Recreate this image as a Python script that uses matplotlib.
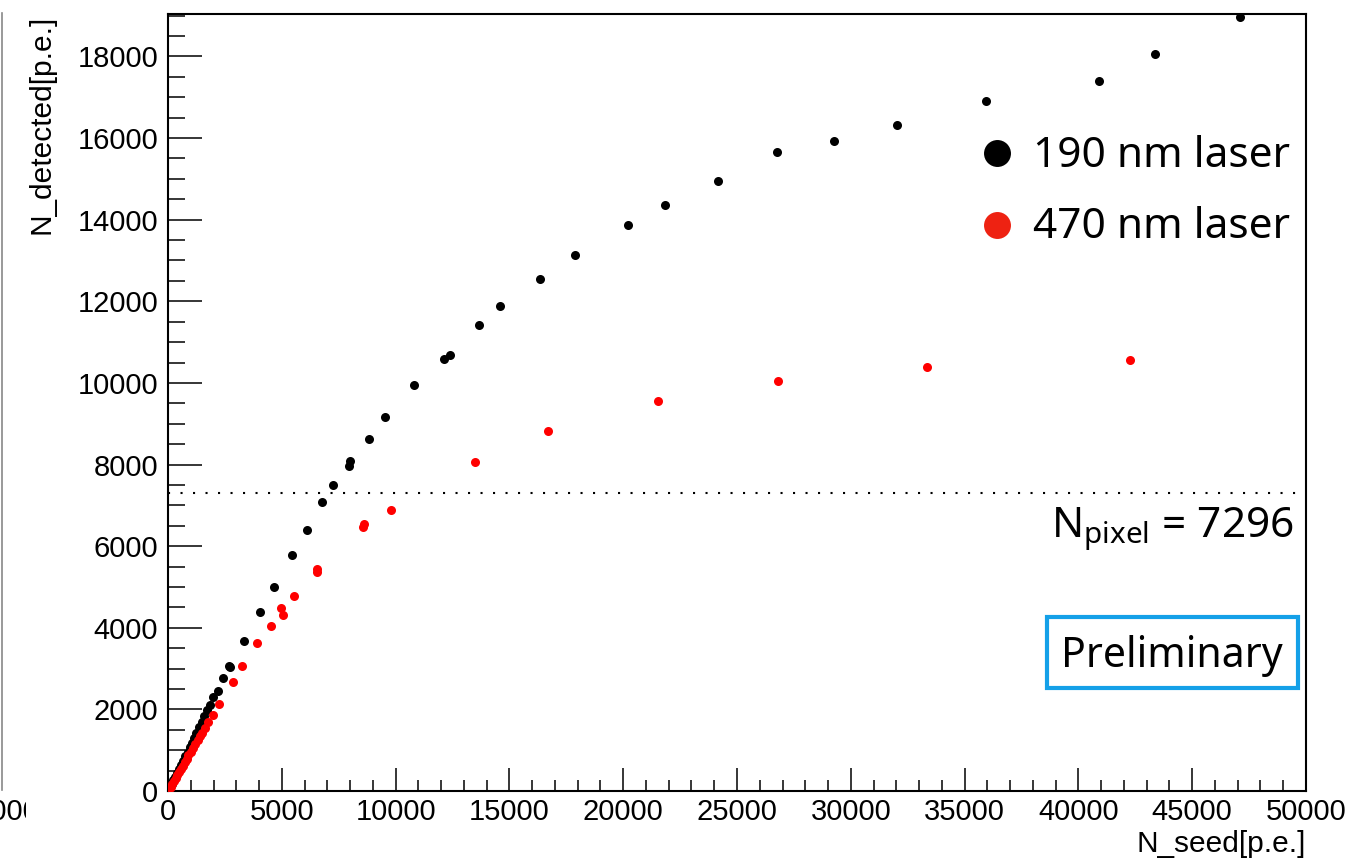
import matplotlib
matplotlib.use("Agg")
import matplotlib.pyplot as plt
from matplotlib.lines import Line2D
from matplotlib.patches import Rectangle
from matplotlib.ticker import MultipleLocator
from matplotlib.transforms import Bbox, TransformedBbox, IdentityTransform

# ---------------- data ----------------
seed_190 = [47100, 43370, 40900, 35940, 32030, 29260, 26760, 24170, 21840, 20210,
            17880, 16340, 14590, 13660, 12390, 12130, 10810, 9530, 8830, 8000,
            7950, 7250, 6770, 6110, 5450, 4660, 4040, 3340, 2720, 2680,
            2420, 2200, 1980, 1850, 1720, 1600, 1480, 1380, 1250, 1150,
            1050, 950, 860, 760, 660, 570, 480, 400, 320, 240, 170, 100, 50]
det_190 = [18960, 18050, 17410, 16920, 16310, 15920, 15650, 14960, 14350, 13860,
           13130, 12540, 11880, 11410, 10680, 10580, 9940, 9160, 8620, 8080,
           7960, 7490, 7080, 6390, 5780, 5000, 4380, 3670, 3040, 3060,
           2770, 2450, 2300, 2110, 1980, 1840, 1700, 1570, 1420, 1300,
           1180, 1070, 960, 850, 740, 630, 530, 440, 350, 260, 180, 110, 50]

seed_470 = [42270, 33350, 26800, 21530, 16700, 13490, 9800, 8610, 8570, 6550,
            6550, 5540, 4960, 5050, 4530, 3910, 3250, 2860, 2240, 1980,
            1760, 1620, 1500, 1400, 1300, 1200, 1100, 1000, 900, 820,
            730, 640, 560, 480, 400, 330, 260, 190, 120, 60, 20]
det_470 = [10560, 10380, 10040, 9550, 8820, 8060, 6880, 6540, 6470, 5440,
           5360, 4780, 4480, 4310, 4040, 3620, 3060, 2670, 2130, 1860,
           1690, 1550, 1430, 1340, 1240, 1150, 1050, 960, 870, 790,
           700, 620, 540, 460, 380, 310, 250, 180, 110, 50, 10]

n_pixel = 7296
legend_labels = ["190 nm laser", "470 nm laser"]
x_title = "N_seed[p.e.]"
y_title = "N_detected[p.e.]"

# ---------------- style ----------------
W, H = 1346, 859
plt.rcParams['font.family'] = ['Liberation Sans', 'DejaVu Sans']
plt.rcParams['mathtext.fontset'] = 'custom'
plt.rcParams['mathtext.rm'] = 'Noto Sans'
plt.rcParams['mathtext.it'] = 'Noto Sans'
plt.rcParams['mathtext.bf'] = 'Noto Sans'
ANN = ['Noto Sans', 'DejaVu Sans']
ANN_SIZE = 30.5

fig = plt.figure(figsize=(W / 100, H / 100), dpi=100)

def fx(px):
    return px / W

def fy(py):
    return 1 - py / H

L, R, T, B = 168, 1306, 14, 791
ax = fig.add_axes([fx(L), fy(B), (R - L) / W, (B - T) / H])

ax.plot(seed_190, det_190, 'o', color='black', ms=6.5, mew=0, ls='none', zorder=3)
ax.plot(seed_470, det_470, 'o', color='#ff0000', ms=6.5, mew=0, ls='none', zorder=4)

ax.axhline(n_pixel, xmin=0.0, xmax=0.995, color='black', lw=1.5, ls=(0, (1, 5)), zorder=2)

ax.set_xlim(0, 50000)
ax.set_ylim(0, 19040)
ax.xaxis.set_major_locator(MultipleLocator(5000))
ax.xaxis.set_minor_locator(MultipleLocator(1000))
ax.yaxis.set_major_locator(MultipleLocator(2000))
ax.yaxis.set_minor_locator(MultipleLocator(500))

for s in ax.spines.values():
    s.set_linewidth(1.5)

ax.tick_params(axis='both', which='both', direction='in', top=False, right=False,
               width=1.1, color='black')
ax.tick_params(axis='y', which='major', length=24.5, labelsize=21, pad=7)
ax.tick_params(axis='y', which='minor', length=12.2)
ax.tick_params(axis='x', which='major', length=16.5, labelsize=21, pad=5)
ax.tick_params(axis='x', which='minor', length=8)

# axis titles
fig.text(fx(1306), fy(852), x_title, ha='right', va='baseline', fontsize=21.5)
yt = fig.text(fx(50), fy(15), y_title, ha='right', va='baseline', rotation=90,
              rotation_mode='anchor', fontsize=21.5)
yt.set_clip_box(TransformedBbox(Bbox([[27, 0], [400, H]]), IdentityTransform()))
yt.set_clip_on(True)

# legend (manual)
leg_colors = ['black', '#ee2212']
leg_y = [153, 225]
leg_base = [167, 238]
for lab, c, yy, yb in zip(legend_labels, leg_colors, leg_y, leg_base):
    fig.add_artist(Line2D([fx(997)], [fy(yy)], marker='o', ms=19.4, mew=0,
                          color=c, transform=fig.transFigure))
    fig.text(fx(1033), fy(yb), lab, ha='left', va='baseline', fontsize=ANN_SIZE,
             family=ANN)

# N_pixel annotation
fig.text(fx(1294), fy(537), r'N$_{\mathrm{pixel}}$ = %d' % n_pixel, ha='right',
         va='baseline', fontsize=ANN_SIZE, family=ANN)

# Preliminary box
fig.add_artist(Rectangle((fx(1047), fy(688)), fx(1298) - fx(1047), fy(617) - fy(688),
                         transform=fig.transFigure, fill=False, lw=3,
                         edgecolor='#14a0e8'))
fig.text(fx(1172), fy(667), 'Preliminary', ha='center', va='baseline',
         fontsize=ANN_SIZE - 1, family=ANN)

# neighbour-pad remnants at left edge
fig.add_artist(Line2D([fx(1.5), fx(1.5)], [fy(13), fy(790)], color='#888888',
                      lw=1.2, transform=fig.transFigure))
nt = fig.text(fx(40), fy(798), '50000', ha='right', va='top', fontsize=21)
nt.set_clip_box(TransformedBbox(Bbox([[0, 0], [26, H]]), IdentityTransform()))
nt.set_clip_on(True)

fig.savefig('out.png', dpi=100)
